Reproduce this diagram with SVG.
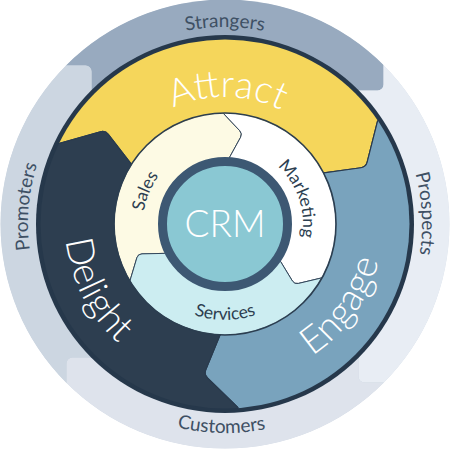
<svg xmlns="http://www.w3.org/2000/svg" width="450" height="449" viewBox="0 0 450 449">
<defs>
<style>
.lbl-outer{font-family:"Lato","Liberation Sans",sans-serif;font-size:19px;fill:#3e5064;}
.lbl-mid{font-family:"Lato","Liberation Sans",sans-serif;font-size:38px;font-weight:300;fill:#ffffff;}
.lbl-inner{font-family:"Lato","Liberation Sans",sans-serif;font-size:17.5px;fill:#2c3e50;}
.seg{stroke:#2a3b4e;stroke-width:1.2;stroke-linejoin:round;}
.iseg{stroke:#34475b;stroke-width:1;stroke-linejoin:round;}
</style>
<clipPath id="clipOuter"><circle cx="225" cy="224" r="224.5"/></clipPath>
<clipPath id="clipMid"><circle cx="225" cy="224" r="184.5"/></clipPath>
<clipPath id="clipInner"><circle cx="225" cy="224" r="110.5"/></clipPath>
<path id="cw197" d="M225,421 A197,197 0 1 1 225,27 A197,197 0 1 1 225,421"/>
<path id="ccw209" d="M225,15 A209,209 0 1 0 225,433 A209,209 0 1 0 225,15"/>
<path id="cw127" d="M225,351 A127,127 0 1 1 225,97 A127,127 0 1 1 225,351"/>
<path id="ccw158" d="M225,66 A158,158 0 1 0 225,382 A158,158 0 1 0 225,66"/>
<path id="ccw160" d="M225,64 A160,160 0 1 0 225,384 A160,160 0 1 0 225,64"/>
<path id="cw82" d="M225,306 A82,82 0 1 1 225,142 A82,82 0 1 1 225,306"/>
<path id="cw78" d="M225,302 A78,78 0 1 1 225,146 A78,78 0 1 1 225,302"/>
<path id="ccw96" d="M225,128 A96,96 0 1 0 225,320 A96,96 0 1 0 225,128"/>
<path id="band" d="M-240,-240 L-240,-158.5 L-139.5,-158.5 A6,6 0 0 1 -133.5,-152.5 L-133.5,0 L0,0 L60,-133.5 L152.5,-133.5 A6,6 0 0 0 158.5,-139.5 L158.5,-240 Z"/>
</defs>

<g id="ring-outer" clip-path="url(#clipOuter)">
  <circle cx="225" cy="224" r="224.5" fill="#c9d3df"/>
  <g transform="translate(225,224)">
    <use id="band-strangers" href="#band" fill="#98aabf"/>
    <use id="band-prospects" href="#band" fill="#e8edf4" transform="rotate(90)"/>
    <use id="band-customers" href="#band" fill="#dee3ec" transform="rotate(180)"/>
    <use id="band-promoters" href="#band" fill="#ccd6e1" transform="rotate(270)"/>
  </g>
</g>

<g id="outer-labels">
  <text id="lbl-strangers" class="lbl-outer" text-anchor="middle"><textPath href="#cw197" startOffset="50%">Strangers</textPath></text>
  <text id="lbl-prospects" class="lbl-outer" text-anchor="middle" transform="rotate(87 225 224)"><textPath href="#cw197" startOffset="50%">Prospects</textPath></text>
  <text id="lbl-customers" class="lbl-outer" text-anchor="middle" transform="rotate(1 225 224)"><textPath href="#ccw209" startOffset="50%">Customers</textPath></text>
  <text id="lbl-promoters" class="lbl-outer" text-anchor="middle" transform="rotate(275 225 224)"><textPath href="#cw197" startOffset="50%">Promoters</textPath></text>
</g>

<circle id="ring-mid-rim" cx="225" cy="224" r="189" fill="#26384b"/>

<g id="ring-middle" clip-path="url(#clipMid)">
  <path id="seg-attract" class="seg" fill="#f5d65b" d="M225,224 L133.41,166.77 L108.28,134.37 Q105.22,130.42 100.41,131.78 L59.62,143.34 L-8.69,110.02 L206.86,-35.37 L440.55,78.61 L377.54,121.11 L367.16,162.21 Q365.93,167.06 360.98,167.74 L320.36,173.30 Z"/>
  <path id="seg-engage" class="seg" fill="#79a3bd" d="M225,224 L320.36,173.30 L360.98,167.74 Q365.93,167.06 367.16,162.21 L377.54,121.11 L440.55,78.61 L458.69,337.98 L243.14,483.37 L237.84,407.55 L207.44,378.01 Q203.85,374.52 205.74,369.89 L221.23,331.93 Z"/>
  <path id="seg-delight" class="seg" fill="#2d3e50" d="M225,224 L221.23,331.93 L205.74,369.89 Q203.85,374.52 207.44,378.01 L237.84,407.55 L243.14,483.37 L9.45,369.39 L-8.69,110.02 L59.62,143.34 L100.41,131.78 Q105.22,130.42 108.28,134.37 L133.41,166.77 Z"/>
</g>

<g id="mid-labels">
  <text id="lbl-attract" class="lbl-mid" text-anchor="middle" transform="rotate(1 225 224)"><textPath href="#cw127" startOffset="50%">Attract</textPath></text>
  <text id="lbl-engage" class="lbl-mid" text-anchor="middle" transform="rotate(-55 225 224)"><textPath href="#ccw158" startOffset="50%">Engage</textPath></text>
  <text id="lbl-delight" class="lbl-mid" text-anchor="middle" transform="rotate(63 225 224)"><textPath href="#ccw160" startOffset="50%">Delight</textPath></text>
</g>

<g id="ring-inner">
  <g clip-path="url(#clipInner)">
    <path id="seg-sales" class="iseg" fill="#fdfae4" d="M225,224 L164.78,253.37 L142.01,253.86 Q138.01,253.95 136.86,257.78 L129.85,281.17 L105,296.11 L102.55,156.13 L222.56,84.02 L223.06,113.02 L239.81,130.78 Q242.55,133.69 240.63,137.20 L229.67,157.16 Z"/>
    <path id="seg-marketing" class="iseg" fill="#ffffff" d="M225,224 L229.67,157.16 L240.63,137.20 Q242.55,133.69 239.81,130.78 L223.06,113.02 L222.56,84.02 L345,151.89 L347.45,291.87 L322.08,277.81 L298.32,283.44 Q294.43,284.36 292.36,280.94 L280.55,261.47 Z"/>
    <path id="seg-services" class="iseg" fill="#ccedf1" d="M225,224 L280.55,261.47 L292.36,280.94 Q294.43,284.36 298.32,283.44 L322.08,277.81 L347.45,291.87 L227.44,363.98 L105,296.11 L129.85,281.17 L136.86,257.78 Q138.01,253.95 142.01,253.86 L164.78,253.37 Z"/>
  </g>
  <circle cx="225" cy="224" r="111" fill="none" stroke="#2c3e50" stroke-width="1.6"/>
  <text id="lbl-sales" class="lbl-inner" text-anchor="middle" transform="rotate(292.5 225 224)"><textPath href="#cw82" startOffset="50%">Sales</textPath></text>
  <text id="lbl-marketing" class="lbl-inner" text-anchor="middle" transform="rotate(71 225 224)"><textPath href="#cw78" startOffset="50%">Marketing</textPath></text>
  <text id="lbl-services" class="lbl-inner" text-anchor="middle"><textPath href="#ccw96" startOffset="50%">Services</textPath></text>
</g>

<g id="crm">
  <circle cx="225" cy="224" r="62.5" fill="#8ac8d3" stroke="#3d5873" stroke-width="9"/>
  <text x="225" y="237" text-anchor="middle" style="font-family:'Lato','Liberation Sans',sans-serif;font-size:37px;font-weight:300;fill:#ffffff">CRM</text>
</g>
</svg>
